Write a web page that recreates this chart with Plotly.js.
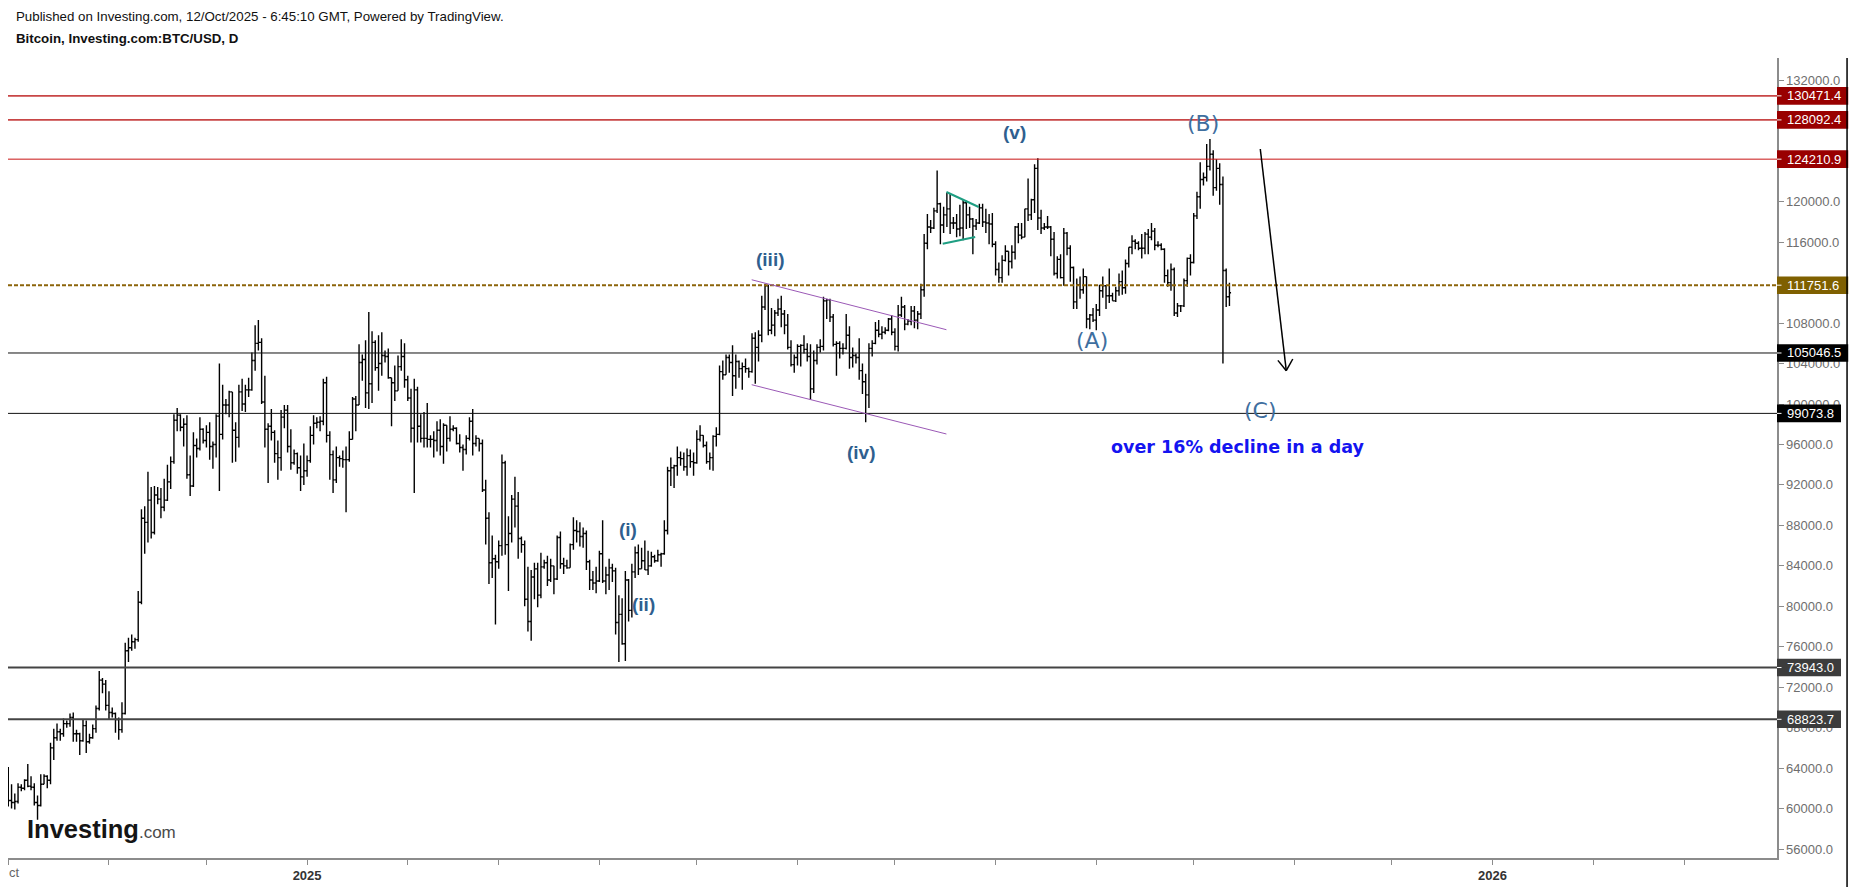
<!DOCTYPE html>
<html>
<head>
<meta charset="utf-8">
<script src="https://cdn.plot.ly/plotly-3.0.1.min.js"></script>
<style>
html,body{margin:0;padding:0;background:#fff;}
#chart{width:1855px;height:887px;}
</style>
</head>
<body>
<div id="chart"></div>
<script>
// ---------------- DATA (BTC/USD daily, values in thousands of USD) ----------------
const firstDay = '2024-10-01';

const openK = [
/*Oct24*/63.3,60.8,60.6,60.7,62.1,62.0,62.8,62.2,62.1,60.6,60.3,62.4,63.2,62.8,66.0,67.0,67.6,67.4,68.4,68.4,69.0,67.4,67.4,66.7,68.2,66.6,67.0,67.9,69.9,72.7,72.3,
/*Nov24*/70.2,69.5,69.4,68.8,67.8,69.4,75.6,75.9,76.5,76.7,80.4,88.7,88.3,90.5,87.3,91.0,90.6,89.8,90.5,92.3,94.3,98.4,98.9,97.7,98.0,93.0,91.9,95.9,95.6,97.5,
/*Dec24*/96.4,97.2,95.8,96.0,98.8,97.0,99.9,99.9,101.2,97.4,96.7,101.2,100.0,101.4,101.4,104.3,106.0,106.1,100.2,97.5,97.8,97.2,95.1,94.7,98.7,99.4,95.8,94.2,95.1,93.7,92.8,
/*Jan25*/93.4,94.4,96.9,98.1,98.2,98.3,102.1,96.9,95.0,92.5,94.7,94.6,94.5,94.5,96.5,100.5,99.9,104.1,104.4,101.1,102.0,106.1,103.6,104.0,104.8,104.7,102.6,102.1,101.3,103.7,104.7,
/*Feb25*/102.4,100.6,97.6,101.4,97.8,96.6,96.6,96.5,96.5,96.4,97.4,95.8,97.9,96.6,97.5,97.6,96.1,95.7,95.5,96.6,98.3,96.1,96.6,96.1,91.5,88.7,84.3,84.7,
/*Mar25*/84.4,86.0,94.2,86.1,87.2,90.6,89.9,86.7,86.1,80.7,78.5,82.9,83.7,81.1,83.9,84.3,82.6,84.0,82.7,86.8,84.2,84.0,83.8,86.1,87.5,87.4,86.9,87.2,84.4,82.6,82.3,
/*Apr25*/82.5,85.2,82.5,83.1,83.8,83.5,78.4,79.2,76.3,82.6,79.6,83.4,85.3,83.7,84.5,83.6,84.0,84.9,84.5,85.1,85.2,87.5,93.4,93.7,93.9,94.7,94.6,93.8,94.9,94.3,
/*May25*/94.2,96.5,96.9,95.9,94.3,94.7,96.8,97.0,103.2,102.9,104.6,104.1,102.8,104.2,103.5,103.7,103.5,103.2,106.5,105.6,106.8,109.6,111.7,107.3,107.8,109.0,109.4,108.9,107.8,105.6,103.9,
/*Jun25*/104.6,105.7,105.8,105.4,104.7,101.5,104.3,105.6,105.7,110.2,110.3,108.6,105.9,106.0,105.5,105.5,106.8,104.6,104.8,104.6,103.3,102.2,100.9,105.5,106.0,107.3,106.9,107.1,107.3,108.4,
/*Jul25*/107.1,105.7,108.8,109.6,107.9,108.2,109.2,108.3,108.9,111.3,115.9,117.5,117.4,119.1,119.8,117.7,118.7,119.3,117.9,117.9,117.3,117.4,119.9,118.7,118.3,117.6,117.9,119.4,118.0,117.9,117.8,
/*Aug25*/115.8,113.3,112.5,114.2,115.1,114.1,115.0,117.5,116.7,116.5,119.3,118.7,120.2,123.3,118.4,117.4,117.5,117.5,116.3,112.9,114.3,112.5,116.9,115.4,113.5,110.1,111.8,111.3,112.6,108.4,108.8,
/*Sep25*/108.3,109.3,111.2,111.7,110.7,110.7,110.2,111.2,112.1,111.5,113.9,115.5,116.1,115.9,115.4,115.4,116.8,116.5,117.1,115.7,115.7,115.3,112.7,112.0,113.3,109.0,109.7,109.7,112.2,114.4,
/*Oct25*/114.0,118.6,120.5,122.2,122.4,123.5,124.7,121.4,123.3,121.7,113.2,110.6
];

const highK = [
/*Oct24*/64.1,62.4,61.5,62.5,62.4,62.9,64.4,63.2,62.5,61.3,63.4,63.4,63.3,66.5,67.9,68.4,67.9,68.9,68.7,69.4,69.5,67.8,67.5,68.8,68.7,67.4,68.3,70.2,73.6,72.9,72.7,
/*Nov24*/71.6,70.0,69.5,69.0,70.5,76.4,76.9,77.2,76.9,81.5,89.6,89.9,93.3,91.8,91.9,91.8,91.7,92.6,94.0,94.8,99.0,99.6,99.0,98.6,98.9,94.9,97.2,96.6,98.7,97.6,
/*Dec24*/97.9,98.2,96.3,99.0,104.0,101.9,100.5,101.3,101.2,98.2,101.9,102.5,101.9,102.6,105.1,107.8,108.3,106.5,102.8,98.1,99.5,97.4,96.4,99.4,99.9,99.9,97.5,95.5,95.2,94.9,96.1,
/*Jan25*/94.9,97.8,98.9,98.7,98.8,102.5,102.7,97.3,95.4,95.8,94.9,95.4,95.8,97.3,100.7,100.8,105.9,104.9,106.3,109.1,107.2,106.3,106.8,107.1,105.3,105.5,102.6,103.8,104.8,106.4,106.0,
/*Feb25*/102.8,101.5,102.5,101.7,99.0,99.2,100.1,96.9,97.3,98.3,98.5,98.1,97.9,98.8,97.9,97.7,97.0,96.0,96.9,98.7,99.5,96.9,96.6,96.5,92.5,89.3,87.0,85.1,
/*Mar25*/86.5,95.0,94.4,88.9,91.0,92.8,91.3,86.9,86.5,83.9,83.6,84.3,84.3,85.3,84.6,85.0,84.7,84.0,87.0,87.4,84.8,84.6,86.2,88.8,88.5,88.3,87.8,87.5,84.6,83.5,83.9,
/*Apr25*/85.5,88.5,83.9,84.7,84.2,83.8,81.1,80.8,83.5,82.7,84.2,85.9,86.1,85.8,86.5,85.5,85.4,85.1,85.6,85.3,88.5,93.8,94.7,94.0,95.8,95.3,95.2,95.6,95.5,95.2,
/*May25*/97.4,97.9,96.9,96.3,95.2,96.9,97.7,103.8,104.3,104.9,104.9,105.8,104.9,104.3,104.1,104.5,103.6,107.0,107.1,107.3,110.7,111.9,111.8,109.5,109.3,110.4,110.7,109.3,108.9,106.3,104.9,
/*Jun25*/105.9,105.9,106.8,106.0,105.9,105.3,105.9,106.4,110.6,110.4,110.4,108.9,106.2,106.2,106.0,108.9,107.7,105.6,105.0,106.5,104.0,103.0,106.0,106.3,108.1,108.3,107.7,107.6,108.5,108.8,
/*Jul25*/107.5,109.8,110.6,109.8,108.4,109.7,109.7,109.2,111.9,116.8,118.8,118.2,119.4,123.1,119.9,119.5,120.9,120.8,118.5,118.8,119.7,120.2,120.1,119.5,118.4,118.3,119.8,119.8,119.3,118.8,118.9,
/*Aug25*/116.1,114.0,114.7,115.7,115.1,115.7,117.6,117.9,117.9,119.3,122.3,120.3,123.7,124.3,119.2,117.9,118.6,117.6,117.0,114.6,114.8,117.4,117.0,115.7,113.6,112.4,112.6,113.4,112.6,108.9,109.5,
/*Sep25*/109.9,111.8,112.6,111.7,113.4,111.0,111.6,112.9,113.2,114.3,115.5,116.7,116.3,116.1,116.8,117.0,117.3,117.9,117.4,116.1,115.9,115.4,113.3,113.9,113.5,110.0,109.8,112.4,114.5,114.8,
/*Oct25*/118.9,121.0,123.9,122.9,125.7,126.2,125.1,124.2,123.8,122.5,113.4,112.0
];

const lowK = [
/*Oct24*/60.2,60.0,59.9,60.5,61.7,61.8,62.1,61.8,60.3,58.9,60.2,62.4,62.0,62.4,64.8,66.7,66.7,67.1,68.0,68.1,66.6,66.6,65.3,66.6,65.5,66.4,66.9,67.5,69.7,71.4,69.7,
/*Nov24*/68.8,69.0,67.5,66.8,67.5,69.3,74.5,75.6,75.8,76.5,80.2,85.2,86.3,86.7,87.1,90.1,88.7,89.4,90.4,91.6,94.1,97.3,97.3,95.8,92.6,90.9,91.8,94.7,95.4,96.1,
/*Dec24*/95.7,94.5,93.6,94.7,91.4,96.5,99.0,98.7,94.2,94.3,95.7,99.3,99.2,100.7,101.3,103.3,105.3,100.0,95.7,92.2,96.4,94.2,92.5,93.4,97.6,95.2,93.5,94.0,93.1,91.4,92.0,
/*Jan25*/92.8,94.2,96.0,97.6,97.3,97.9,96.2,92.5,91.2,92.2,93.8,93.7,89.3,94.3,96.5,97.3,99.9,102.3,99.6,99.5,100.1,103.3,101.3,102.8,104.1,102.5,97.8,100.3,101.3,103.3,101.6,
/*Feb25*/100.3,96.2,91.2,96.2,96.2,95.7,95.7,95.7,94.7,95.3,94.9,94.1,95.3,96.3,97.3,96.0,95.2,93.4,95.0,96.4,94.9,95.8,95.3,91.3,86.1,82.2,82.8,78.2,
/*Mar25*/83.7,85.0,85.1,81.5,86.3,87.8,84.7,85.3,80.0,77.5,76.6,80.7,79.9,80.8,83.7,82.0,82.4,81.2,82.6,83.7,83.2,83.7,83.8,85.6,86.3,85.9,85.8,83.6,81.6,81.6,81.3,
/*Apr25*/82.4,82.3,81.2,81.6,82.4,77.2,74.5,76.2,74.6,78.5,78.9,82.8,83.1,83.7,83.6,83.1,83.9,84.3,84.4,83.9,85.1,87.1,91.9,91.7,92.9,93.9,93.4,92.9,93.7,92.9,
/*May25*/94.1,96.3,95.7,94.1,93.5,93.4,95.8,96.9,102.4,102.9,103.1,100.8,101.5,102.6,101.4,103.1,102.6,103.1,102.0,104.2,106.1,109.3,106.8,106.9,106.7,108.7,107.6,106.9,105.4,103.7,103.1,
/*Jun25*/103.8,103.7,105.0,104.2,100.4,101.1,103.9,105.1,105.3,108.4,108.1,105.7,102.8,104.5,104.9,105.4,103.5,103.6,104.0,102.4,101.0,98.2,99.6,104.7,105.9,106.6,106.4,106.9,107.2,106.8,
/*Jul25*/105.3,105.2,108.6,107.3,107.8,107.8,107.5,107.4,108.4,110.6,115.3,116.9,117.3,118.9,115.8,116.9,117.5,116.8,117.3,116.5,116.6,116.2,117.3,117.4,114.8,117.2,117.8,117.5,116.9,115.8,115.5,
/*Aug25*/112.7,112.0,112.0,114.1,112.7,113.4,114.3,115.9,116.3,116.5,118.1,118.2,118.9,117.2,116.8,117.2,117.3,114.6,112.7,112.4,112.4,111.7,114.7,112.1,109.4,109.4,110.4,110.9,107.5,107.4,108.1,
/*Sep25*/107.3,108.7,110.5,109.4,110.0,110.2,110.1,110.7,110.8,110.9,113.5,114.8,115.3,115.2,114.4,114.8,114.8,116.2,115.2,115.5,115.2,112.0,111.6,111.2,108.7,108.6,109.1,109.6,111.6,112.7,
/*Oct25*/113.9,118.3,119.3,121.6,122.0,123.1,120.6,121.1,119.7,104.0,109.6,109.7
];

const closeK = [
/*Oct24*/60.8,60.6,60.7,62.1,62.0,62.8,62.2,62.1,60.6,60.3,62.4,63.2,62.8,66.0,67.0,67.6,67.4,68.4,68.4,69.0,67.4,67.4,66.7,68.2,66.6,67.0,67.9,69.9,72.7,72.3,70.2,
/*Nov24*/69.5,69.4,68.8,67.8,69.4,75.6,75.9,76.5,76.7,80.4,88.7,88.3,90.5,87.3,91.0,90.6,89.8,90.5,92.3,94.3,98.4,98.9,97.7,98.0,93.0,91.9,95.9,95.6,97.5,96.4,
/*Dec24*/97.2,95.8,96.0,98.8,97.0,99.9,99.9,101.2,97.4,96.7,101.2,100.0,101.4,101.4,104.3,106.0,106.1,100.2,97.5,97.8,97.2,95.1,94.7,98.7,99.4,95.8,94.2,95.1,93.7,92.8,93.4,
/*Jan25*/94.4,96.9,98.1,98.2,98.3,102.1,96.9,95.0,92.5,94.7,94.6,94.5,94.5,96.5,100.5,99.9,104.1,104.4,101.1,102.0,106.1,103.6,104.0,104.8,104.7,102.6,102.1,101.3,103.7,104.7,102.4,
/*Feb25*/100.6,97.6,101.4,97.8,96.6,96.6,96.5,96.5,96.4,97.4,95.8,97.9,96.6,97.5,97.6,96.1,95.7,95.5,96.6,98.3,96.1,96.6,96.1,91.5,88.7,84.3,84.7,84.4,
/*Mar25*/86.0,94.2,86.1,87.2,90.6,89.9,86.7,86.1,80.7,78.5,82.9,83.7,81.1,83.9,84.3,82.6,84.0,82.7,86.8,84.2,84.0,83.8,86.1,87.5,87.4,86.9,87.2,84.4,82.6,82.3,82.5,
/*Apr25*/85.2,82.5,83.1,83.8,83.5,78.4,79.2,76.3,82.6,79.6,83.4,85.3,83.7,84.5,83.6,84.0,84.9,84.5,85.1,85.2,87.5,93.4,93.7,93.9,94.7,94.6,93.8,94.9,94.3,94.2,
/*May25*/96.5,96.9,95.9,94.3,94.7,96.8,97.0,103.2,102.9,104.6,104.1,102.8,104.2,103.5,103.7,103.5,103.2,106.5,105.6,106.8,109.6,111.7,107.3,107.8,109.0,109.4,108.9,107.8,105.6,103.9,104.6,
/*Jun25*/105.7,105.8,105.4,104.7,101.5,104.3,105.6,105.7,110.2,110.3,108.6,105.9,106.0,105.5,105.5,106.8,104.6,104.8,104.6,103.3,102.2,100.9,105.5,106.0,107.3,106.9,107.1,107.3,108.4,107.1,
/*Jul25*/105.7,108.8,109.6,107.9,108.2,109.2,108.3,108.9,111.3,115.9,117.5,117.4,119.1,119.8,117.7,118.7,119.3,117.9,117.9,117.3,117.4,119.9,118.7,118.3,117.6,117.9,119.4,118.0,117.9,117.8,115.8,
/*Aug25*/113.3,112.5,114.2,115.1,114.1,115.0,117.5,116.7,116.5,119.3,118.7,120.2,123.3,118.4,117.4,117.5,117.5,116.3,112.9,114.3,112.5,116.9,115.4,113.5,110.1,111.8,111.3,112.6,108.4,108.8,108.3,
/*Sep25*/109.3,111.2,111.7,110.7,110.7,110.2,111.2,112.1,111.5,113.9,115.5,116.1,115.9,115.4,115.4,116.8,116.5,117.1,115.7,115.7,115.3,112.7,112.0,113.3,109.0,109.7,109.7,112.2,114.4,114.0,
/*Oct25*/118.6,120.5,122.2,122.4,123.5,124.7,121.4,123.3,121.7,113.2,110.6,111.0
];

// Horizontal price levels and their right-axis tags
const levelValues = [130471.4, 128092.4, 124210.9, 111751.6, 105046.5, 99073.8, 73943.0, 68823.7];
const levelLabels = ['130471.4', '128092.4', '124210.9', '111751.6', '105046.5', '99073.8', '73943.0', '68823.7'];

// Month ticks on the time axis and their labels
const monthTicks = ['2024-10-01','2024-11-01','2024-12-01','2025-01-01','2025-02-01','2025-03-01','2025-04-01',
  '2025-05-01','2025-06-01','2025-07-01','2025-08-01','2025-09-01','2025-10-01','2025-11-01','2025-12-01',
  '2026-01-01','2026-02-01','2026-03-01'];
const monthTickText = ['','','','<b>2025</b>','','','','','','','','','','','','<b>2026</b>','',''];

// Elliott wave labels
const waveText = ['(i)', '(ii)', '(iii)', '(iv)', '(v)'];
const waveDate = ['2025-04-09 22:00', '2025-04-14 17:00', '2025-05-23 14:00', '2025-06-20 14:00', '2025-08-06 17:00'];
const wavePrice = [87572, 80205, 114270, 95235, 126878];
const corrText = ['(A)', '(B)', '(C)'];
const corrDate = ['2025-08-30 17:00', '2025-10-03 22:00', '2025-10-21 17:00'];
const corrPrice = [106290, 127788, 99339];

// ---------------- STYLES ----------------
const lineColors = ['rgb(200,70,70)','rgb(200,70,70)','rgb(200,20,20)','rgb(140,100,10)','#111','#111','#444','#444'];
const lineWidths = [1.6, 1.6, 1, 2, 1, 1, 2, 2];
const lineDash = ['solid','solid','solid','4px,2px','solid','solid','solid','solid'];
const tagColors = ['#990000','#990000','#990000','#7f6000','#000000','#000000','#3c3c3c','#3c3c3c'];

const FONT = 'Liberation Sans, Arial, sans-serif';

// ---------------- BUILD ----------------
const dates = [];
{
  const t0 = Date.parse(firstDay + 'T00:00:00Z');
  for (let i = 0; i < closeK.length; i++) {
    dates.push(new Date(t0 + i * 86400000).toISOString().slice(0, 10));
  }
}
const k = v => v * 1000;

const trace = {
  type: 'ohlc',
  x: dates,
  open: openK.map(k), high: highK.map(k), low: lowK.map(k), close: closeK.map(k),
  increasing: {line: {color: '#000', width: 1.4}},
  decreasing: {line: {color: '#000', width: 1.4}},
  tickwidth: 0.5,
  hoverinfo: 'skip',
  showlegend: false
};

const shapes = [];
const annotations = [];

levelValues.forEach((v, i) => {
  shapes.push({type: 'line', xref: 'paper', yref: 'y', x0: 0, x1: 1, y0: v, y1: v,
    line: {color: lineColors[i], width: lineWidths[i], dash: lineDash[i]}, layer: 'above'});
  const label = levelLabels[i];
  const digits = label.replace('.', '').length;
  const boxW = 17 + digits * 7.23 + 3.61;
  shapes.push({type: 'rect', xref: 'paper', yref: 'y', xsizemode: 'pixel', ysizemode: 'pixel',
    xanchor: 1, yanchor: v, x0: 0, x1: boxW, y0: -8.8, y1: 8.8,
    fillcolor: tagColors[i], line: {width: 0}, layer: 'above'});
  shapes.push({type: 'line', xref: 'paper', yref: 'y', xsizemode: 'pixel', ysizemode: 'pixel',
    xanchor: 1, yanchor: v, x0: 0, x1: 4.5, y0: 0, y1: 0,
    line: {color: '#ffffff', width: 1}, layer: 'above'});
  annotations.push({xref: 'paper', yref: 'y', x: 1, y: v, xanchor: 'left', yanchor: 'middle',
    xshift: 9, showarrow: false, text: label, borderpad: 0,
    font: {family: FONT, size: 13, color: '#ffffff'}});
});

// Channel lines (purple), triangle (green), arrow (black)
const purple = '#9b59b6', green = '#1e9e82';
shapes.push({type:'line', xref:'x', yref:'y', x0:'2025-05-17 21:36', y0:112287, x1:'2025-07-16 20:38', y1:107348, line:{color:purple, width:1}});
shapes.push({type:'line', xref:'x', yref:'y', x0:'2025-05-17 21:36', y0:101910, x1:'2025-07-16 20:38', y1:97035, line:{color:purple, width:1}});
shapes.push({type:'line', xref:'x', yref:'y', x0:'2025-07-16 20:38', y0:120965, x1:'2025-07-26 19:12', y1:119481, line:{color:green, width:2}});
shapes.push({type:'line', xref:'x', yref:'y', x0:'2025-07-15 17:00', y0:115852, x1:'2025-07-25 17:00', y1:116515, line:{color:green, width:2}});
shapes.push({type:'line', xref:'x', yref:'y', x0:'2025-10-21 12:00', y0:125217, x1:'2025-10-29 12:00', y1:103294, line:{color:'#000', width:1.5}});
shapes.push({type:'line', xref:'x', yref:'y', x0:'2025-10-26 22:00', y0:104313, x1:'2025-10-29 12:00', y1:103294, line:{color:'#000', width:1.5}});
shapes.push({type:'line', xref:'x', yref:'y', x0:'2025-10-31 12:00', y0:104451, x1:'2025-10-29 12:00', y1:103294, line:{color:'#000', width:1.5}});

// Right outer border
shapes.push({type:'line', xref:'paper', yref:'paper', x0:1.0396, x1:1.0396, y0:-0.03625, y1:1, line:{color:'#000', width:1.5}});

waveText.forEach((t, i) => annotations.push({xref:'x', yref:'y', x: waveDate[i], y: wavePrice[i], text: '<b>' + t + '</b>',
  showarrow:false, xanchor:'center', yanchor:'middle', font:{family: FONT, size: 19, color:'#2f5f8f'}}));
corrText.forEach((t, i) => annotations.push({xref:'x', yref:'y', x: corrDate[i], y: corrPrice[i], text: t,
  showarrow:false, xanchor:'center', yanchor:'middle', font:{family:'DejaVu Sans, Verdana, sans-serif', size: 22, color:'#3f6f9f'}}));
annotations.push({xref:'x', yref:'y', x:'2025-10-14 14:00', y:95710, text:'<b>over 16% decline in a day</b>',
  showarrow:false, xanchor:'center', yanchor:'middle', font:{family:'DejaVu Sans, Verdana, sans-serif', size:17.5, color:'#1414f0'}});

// Header texts
annotations.push({xref:'paper', yref:'paper', x:0.0034, y:1.0518, xanchor:'left', yanchor:'middle', showarrow:false,
  text:'Published on Investing.com, 12/Oct/2025 - 6:45:10 GMT, Powered by TradingView.', font:{family:FONT, size:13.3, color:'#111'}});
annotations.push({xref:'paper', yref:'paper', x:0.0034, y:1.0238, xanchor:'left', yanchor:'middle', showarrow:false,
  text:'<b>Bitcoin, Investing.com:BTC/USD, D</b>', font:{family:FONT, size:13.3, color:'#111'}});
// Cut month label at the left edge
annotations.push({xref:'paper', yref:'paper', x:0, y:-0.0179, xanchor:'left', yanchor:'middle', showarrow:false, borderpad:0,
  text:'ct', font:{family:FONT, size:13, color:'#666'}});
// Logo
annotations.push({xref:'paper', yref:'paper', x:0.0096, y:0.036, xanchor:'left', yanchor:'middle', showarrow:false,
  text:'<b>Investing</b><span style="font-size:17px;color:#4a4a4a">.com</span>', font:{family:FONT, size:25.5, color:'#151515'}});

const layout = {
  width: 1855, height: 887,
  margin: {l: 8, r: 78, t: 58, b: 29},
  paper_bgcolor: '#ffffff', plot_bgcolor: '#ffffff',
  showlegend: false, hovermode: false, dragmode: false,
  xaxis: {
    type: 'date', range: ['2024-09-30 21:47', '2026-03-29 14:24'],
    rangeslider: {visible: false}, showgrid: false, zeroline: false,
    showline: true, linecolor: '#8c8c8c', linewidth: 1.5,
    ticks: 'outside', ticklen: 5, tickcolor: '#8c8c8c', tickwidth: 1,
    tickmode: 'array', tickvals: monthTicks, ticktext: monthTickText,
    tickfont: {family: FONT, size: 13, color: '#333'}, fixedrange: true
  },
  yaxis: {
    side: 'right', range: [55110, 134215], tick0: 0, dtick: 4000, tickformat: '.1f',
    showgrid: false, zeroline: false, showline: true, linecolor: '#8c8c8c', linewidth: 1.5,
    ticks: 'outside', ticklen: 5, tickcolor: '#8c8c8c', tickwidth: 1,
    tickfont: {family: FONT, size: 13, color: '#6e6e6e'}, fixedrange: true
  },
  shapes: shapes,
  annotations: annotations
};

Plotly.newPlot('chart', [trace], layout, {staticPlot: true, displayModeBar: false});
</script>
</body>
</html>
